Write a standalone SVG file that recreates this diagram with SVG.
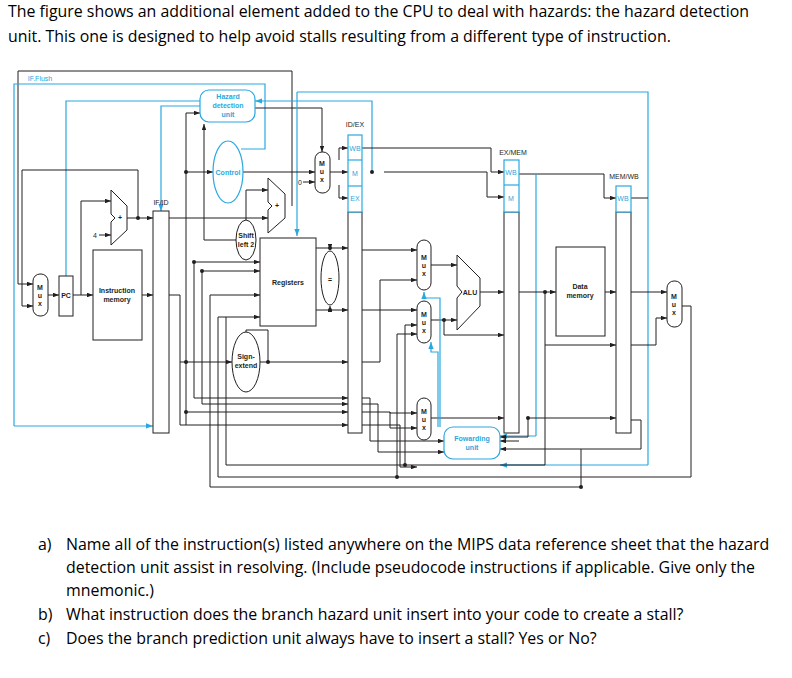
<svg xmlns="http://www.w3.org/2000/svg" width="792" height="678" viewBox="0 0 792 678">
<defs>
<marker id="a" viewBox="0 0 8 6" refX="8" refY="3" markerWidth="6" markerHeight="4.5" orient="auto"><path d="M0,0L8,3L0,6z" fill="#231f20"/></marker>
<marker id="b" viewBox="0 0 8 6" refX="8" refY="3" markerWidth="6" markerHeight="4.5" orient="auto"><path d="M0,0L8,3L0,6z" fill="#29a8e0"/></marker>
</defs>
<style>
.q{font-family:"Open Sans","Liberation Sans",sans-serif;font-size:15.9px;fill:#000}
.t{font-family:"Liberation Sans",Arial,sans-serif;font-size:7px;font-weight:bold;fill:#231f20;text-anchor:middle}
.tb{font-family:"Liberation Sans",Arial,sans-serif;font-size:7px;font-weight:bold;fill:#29a8e0;text-anchor:middle}
.lb{font-family:"Liberation Sans",Arial,sans-serif;font-size:7px;fill:#29a8e0;text-anchor:middle}
.lk{font-family:"Liberation Sans",Arial,sans-serif;font-size:7px;fill:#231f20;text-anchor:middle}
.k{fill:none;stroke:#231f20;stroke-width:1}
.ka{fill:none;stroke:#231f20;stroke-width:1;marker-end:url(#a)}
.c{fill:none;stroke:#29a8e0;stroke-width:1.2}
.ca{fill:none;stroke:#29a8e0;stroke-width:1.2;marker-end:url(#b)}
.bx{fill:#fff;stroke:#231f20;stroke-width:1}
.bb{fill:#fff;stroke:#29a8e0;stroke-width:1.2}
.d{fill:#231f20}
</style>
<rect width="792" height="678" fill="#fff"/>
<text class="q" x="8" y="17">The figure shows an additional element added to the CPU to deal with hazards: the hazard detection</text>
<text class="q" x="8" y="42">unit. This one is designed to help avoid stalls resulting from a different type of instruction.</text>

<g id="connectors">
<polyline class="ka" points="292,206 292,71 18,71 18,284 33,284"/>
<polyline class="c" points="241,149 265,149 265,84 14,84 14,426"/>
<polyline class="ca" points="14,426 153,426"/>
<polyline class="c" points="66,276 66,101 200,101"/>
<polyline class="ca" points="200,106 161,106 161,211"/>
<polyline class="ka" points="255,108 322,108 322,152"/>
<polyline class="ca" points="372,172 372,101 255,101"/>
<polyline class="ca" points="297,92 297,236"/>
<polyline class="c" points="297,92 648,92 648,465"/>
<polyline class="ca" points="648,465 500,465"/>
<polyline class="ka" points="48,295 59,295"/>
<polyline class="ka" points="73,295 93,295"/>
<polyline class="ka" points="81,295 81,201 111,201"/>
<polyline class="ka" points="99,235 111,235"/>
<polyline class="ka" points="127,218 153,218"/>
<polyline class="ka" points="138,218 138,170 22,170 22,306 33,306"/>
<polyline class="ka" points="142,295 153,295"/>
<polyline class="ka" points="169,218 268,218"/>
<polyline class="ka" points="246,220 246,190 268,190"/>
<polyline class="k" points="169,295 180,295"/>
<polyline class="ka" points="186,113 200,113"/>
<polyline class="k" points="186,113 186,425"/>
<polyline class="ka" points="186,172 213,172"/>
<polyline class="ka" points="204,240 204,124"/>
<polyline class="k" points="204,240 246,240"/>
<polyline class="ka" points="194,262 260,262"/>
<polyline class="ka" points="202,271 260,271"/>
<polyline class="ka" points="210,295 260,295"/>
<polyline class="ka" points="218,317 260,317"/>
<polyline class="k" points="194,262 194,398"/>
<polyline class="k" points="202,271 202,404"/>
<polyline class="k" points="210,295 210,487"/>
<polyline class="k" points="218,317 218,477"/>
<polyline class="ka" points="180,295 180,362 232,362"/>
<polyline class="ka" points="260,362 348,362"/>
<polyline class="k" points="268,362 268,330 246,330 246,340"/>
<polyline class="ka" points="243,172 315,172"/>
<polyline class="ka" points="303,182 315,182"/>
<polyline class="ka" points="339,172 348,172"/>
<polyline class="ka" points="339,160 339,148 348,148"/>
<polyline class="ka" points="339,185 339,198 348,198"/>
<polyline class="k" points="330,172 339,172"/>
<polyline class="ka" points="316,248 348,248"/>
<polyline class="ka" points="316,310 348,310"/>
<polyline class="ka" points="330,248 330,250"/>
<polyline class="ka" points="330,310 330,306"/>
<polyline class="ka" points="194,398 348,398"/>
<polyline class="ka" points="202,404 348,404"/>
<polyline class="ka" points="186,412 348,412"/>
<polyline class="ka" points="180,362 180,425 348,425"/>
<polyline class="ka" points="362,148 491,148 491,172 504,172"/>
<polyline class="ka" points="384,172 487,172 487,197 504,197"/>
<polyline class="ka" points="519,174 604,174 604,198 616,198"/>
<polyline class="k" points="631,198 648,198"/>
<polyline class="c" points="536,174 536,436"/>
<polyline class="ca" points="536,436 500,436"/>
<polyline class="ka" points="362,250 417,250"/>
<polyline class="ka" points="362,310 417,310"/>
<polyline class="ka" points="362,362 380,362 380,280 417,280"/>
<polyline class="ka" points="405,325 417,325"/>
<polyline class="ka" points="397,334 417,334"/>
<polyline class="ka" points="431,265 457,265"/>
<polyline class="ka" points="431,320 457,320"/>
<polyline class="ka" points="444,320 444,335 504,335"/>
<polyline class="ka" points="480,292 504,292"/>
<polyline class="ka" points="362,398 370,398 370,441 444,441"/>
<polyline class="ka" points="362,404 378,404 378,452 444,452"/>
<polyline class="ka" points="362,412 390,412 390,413 417,413"/>
<polyline class="ka" points="390,412 390,428 417,428"/>
<polyline class="ka" points="362,425 400,425 400,467 417,467"/>
<polyline class="ka" points="431,418 504,418"/>
<polyline class="ca" points="438,427 438,352 431,352 431,342"/>
<polyline class="ca" points="440,427 440,298 424,298 424,292"/>
<polyline class="ka" points="519,292 556,292"/>
<polyline class="ka" points="545,292 545,345 616,345"/>
<polyline class="ka" points="605,292 616,292"/>
<polyline class="ka" points="528,418 616,418"/>
<polyline class="ka" points="528,418 528,437 500,437"/>
<polyline class="ka" points="519,441 500,441"/>
<polyline class="ka" points="631,292 667,292"/>
<polyline class="ka" points="631,345 656,345 656,318 667,318"/>
<polyline class="ka" points="631,420 641,420 641,449 500,449"/>
<polyline class="k" points="682,306 691,306 691,477 218,477"/>
<polyline class="k" points="545,345 545,465 226,465 226,317"/>
<polyline class="k" points="581,449 581,487 210,487"/>
<polyline class="k" points="405,325 405,465"/>
<polyline class="k" points="397,334 397,477"/>
</g>

<g id="dots">
<circle class="d" cx="138" cy="218" r="2"/><circle class="d" cx="194" cy="262" r="2"/><circle class="d" cx="202" cy="271" r="2"/>
<circle class="d" cx="186" cy="172" r="2"/><circle class="d" cx="186" cy="362" r="2"/><circle class="d" cx="268" cy="362" r="2"/>
<circle class="d" cx="330" cy="248" r="2"/><circle class="d" cx="330" cy="310" r="2"/><circle class="d" cx="372" cy="172" r="2"/>
<circle class="d" cx="444" cy="320" r="2"/><circle class="d" cx="545" cy="292" r="2"/><circle class="d" cx="528" cy="418" r="2"/>
<circle class="d" cx="405" cy="465" r="2"/><circle class="d" cx="397" cy="477" r="2"/><circle class="d" cx="581" cy="487" r="2"/><circle class="d" cx="186" cy="412" r="2"/>
</g>

<g id="ifflush"><text class="lb" x="40" y="81">IF.Flush</text></g>
<g id="hazard"><rect class="bb" x="200" y="90" width="55" height="32" rx="9"/><text class="tb" x="228" y="99">Hazard</text><text class="tb" x="228" y="108">detection</text><text class="tb" x="228" y="117">unit</text></g>
<g id="control"><ellipse class="bb" cx="228" cy="172" rx="15" ry="31"/><text class="tb" x="228" y="175">Control</text></g>
<g id="muxIF"><rect class="bx" x="33" y="274" width="15" height="42" rx="7"/><text class="t" x="40" y="290">M</text><text class="t" x="40" y="298">u</text><text class="t" x="40" y="306">x</text></g>
<g id="pc"><rect class="bx" x="59" y="276" width="14" height="40"/><text class="t" x="66" y="298">PC</text></g>
<g id="imem"><rect class="bx" x="93" y="250" width="49" height="90"/><text class="t" x="117" y="293">Instruction</text><text class="t" x="117" y="302">memory</text></g>
<g id="adder1"><polygon class="bx" points="111,190 127,206 127,230 111,245 111,222 115,218 111,214"/><text class="t" x="120" y="220">+</text><text class="lk" x="95" y="238">4</text></g>
<g id="ifid"><rect class="bx" x="153" y="211" width="16" height="222"/><text class="lk" x="161" y="205">IF/ID</text></g>
<g id="adder2"><polygon class="bx" points="268,178 285,194 285,218 268,233 268,210 272,206 268,202"/><text class="t" x="277" y="208">+</text></g>
<g id="shift"><ellipse class="bx" cx="246" cy="240" rx="10" ry="20"/><text class="t" x="246" y="238">Shift</text><text class="t" x="246" y="247">left 2</text></g>
<g id="registers"><rect class="bx" x="260" y="238" width="56" height="88"/><text class="t" x="288" y="285">Registers</text></g>
<g id="eq"><ellipse class="bx" cx="330" cy="278" rx="9" ry="27"/><text class="t" x="330" y="282" font-size="11">=</text></g>
<g id="signext"><ellipse class="bx" cx="246" cy="362" rx="14" ry="30"/><text class="t" x="246" y="359">Sign-</text><text class="t" x="246" y="368">extend</text></g>
<g id="muxID"><rect class="bx" x="315" y="152" width="15" height="41" rx="7"/><text class="t" x="322" y="166">M</text><text class="t" x="322" y="174">u</text><text class="t" x="322" y="182">x</text><text class="lk" x="300" y="185">0</text></g>
<g id="idex"><rect class="bx" x="348" y="212" width="14" height="221"/><rect class="bb" x="348" y="135" width="14" height="77"/><line class="c" x1="348" y1="160" x2="362" y2="160"/><line class="c" x1="348" y1="186" x2="362" y2="186"/><text class="lb" x="355" y="151">WB</text><text class="lb" x="355" y="176">M</text><text class="lb" x="355" y="201">EX</text><text class="lk" x="355" y="127">ID/EX</text></g>
<g id="mux1"><rect class="bx" x="417" y="240" width="14" height="50" rx="7"/><text class="t" x="424" y="260">M</text><text class="t" x="424" y="268">u</text><text class="t" x="424" y="276">x</text></g>
<g id="mux2"><rect class="bx" x="417" y="301" width="14" height="42" rx="7"/><text class="t" x="424" y="317">M</text><text class="t" x="424" y="325">u</text><text class="t" x="424" y="333">x</text></g>
<g id="mux3"><rect class="bx" x="417" y="398" width="14" height="42" rx="7"/><text class="t" x="424" y="414">M</text><text class="t" x="424" y="422">u</text><text class="t" x="424" y="430">x</text></g>
<g id="alu"><polygon class="bx" points="457,255 480,278 480,306 457,330 457,298 462,292 457,286"/><text class="t" x="470" y="295">ALU</text></g>
<g id="exmem"><rect class="bx" x="504" y="212" width="15" height="221"/><rect class="bb" x="504" y="160" width="15" height="52"/><line class="c" x1="504" y1="185" x2="519" y2="185"/><text class="lb" x="511" y="175">WB</text><text class="lb" x="511" y="201">M</text><text class="lk" x="513" y="155">EX/MEM</text></g>
<g id="dmem"><rect class="bx" x="556" y="247" width="49" height="89"/><text class="t" x="580" y="289">Data</text><text class="t" x="580" y="298">memory</text></g>
<g id="memwb"><rect class="bx" x="616" y="212" width="15" height="221"/><rect class="bb" x="616" y="186" width="15" height="26"/><text class="lb" x="623" y="201">WB</text><text class="lk" x="624" y="179">MEM/WB</text></g>
<g id="muxWB"><rect class="bx" x="667" y="281" width="15" height="46" rx="7"/><text class="t" x="674" y="299">M</text><text class="t" x="674" y="307">u</text><text class="t" x="674" y="315">x</text></g>
<g id="forward"><rect class="bb" x="444" y="427" width="56" height="32" rx="9"/><text class="tb" x="472" y="441">Fowarding</text><text class="tb" x="472" y="450">unit</text></g>

<g id="questions">
<text class="q" x="38" y="550">a)</text><text class="q" x="66" y="550">Name all of the instruction(s) listed anywhere on the MIPS data reference sheet that the hazard</text>
<text class="q" x="66" y="573">detection unit assist in resolving. (Include pseudocode instructions if applicable. Give only the</text>
<text class="q" x="66" y="596">mnemonic.)</text>
<text class="q" x="38" y="620">b)</text><text class="q" x="66" y="620">What instruction does the branch hazard unit insert into your code to create a stall?</text>
<text class="q" x="38" y="644">c)</text><text class="q" x="66" y="644">Does the branch prediction unit always have to insert a stall? Yes or No?</text>
</g>
</svg>
